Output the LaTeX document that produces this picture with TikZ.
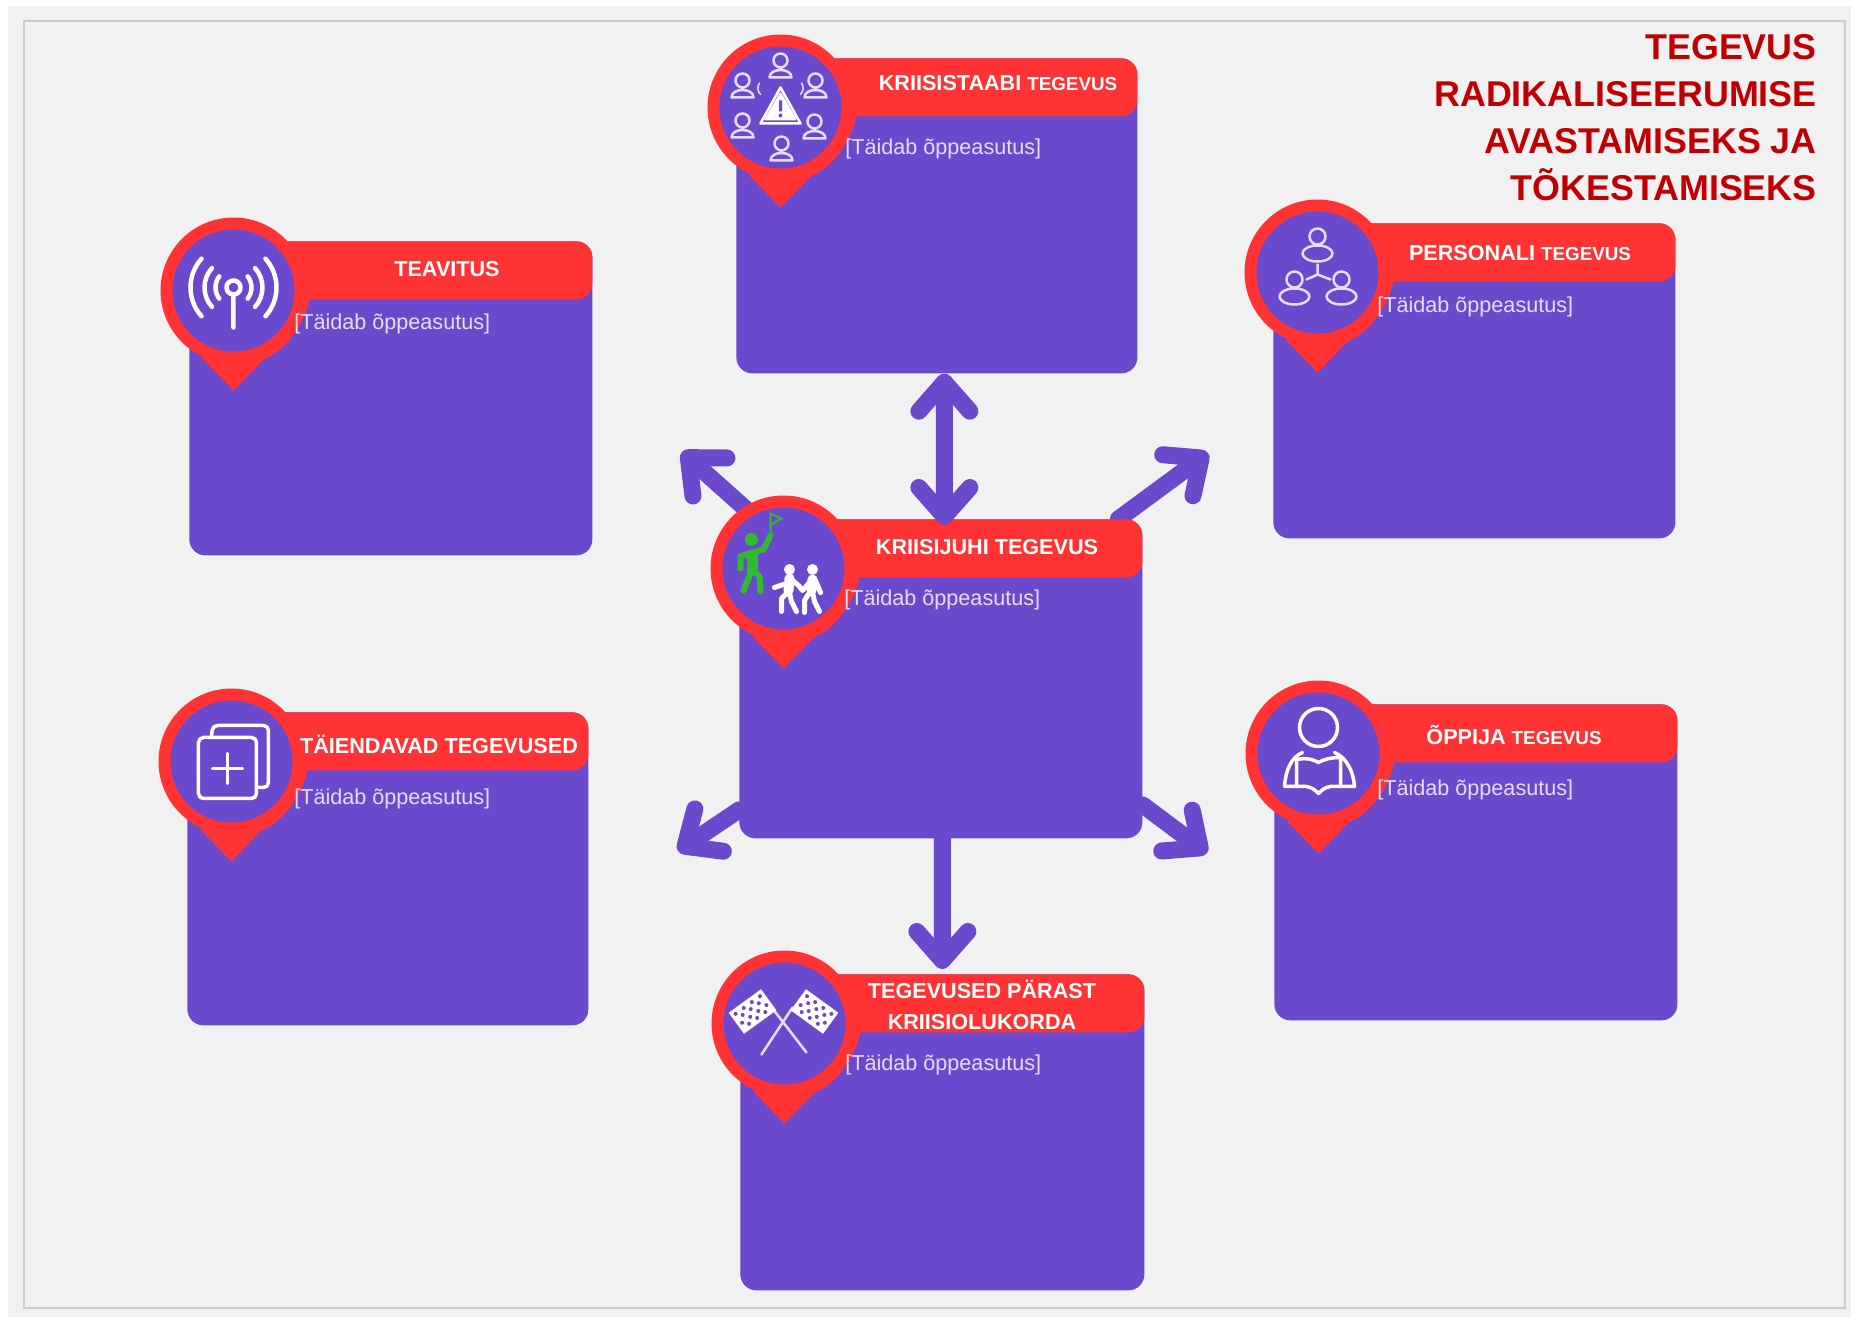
\documentclass[tikz,border=0pt]{standalone}
\usepackage{fontspec}
\setmainfont{Liberation Sans}
\usepackage{xcolor}
\usepackage{tikz}
\usetikzlibrary{calc,positioning,arrows.meta}

\definecolor{cardpurple}{HTML}{6B49CC}
\definecolor{pinred}{HTML}{FF3333}
\definecolor{titlered}{HTML}{C00000}
\definecolor{pagegray}{HTML}{F1F1F1}
\definecolor{framegray}{HTML}{CCCCCC}
\definecolor{lavender}{HTML}{E4DDF7}
\definecolor{flaggreen}{HTML}{2EBB2E}

\newcommand{\hdbig}{\fontsize{12.3}{15}\selectfont}
\newcommand{\hdsmall}{\fontsize{10.7}{15}\selectfont}

\tikzset{
    cardbody/.style={anchor=north west, fill=cardpurple, rounded corners=0.32cm, inner sep=0pt},
    cardhead/.style={anchor=north east, fill=pinred, rounded corners=0.32cm, inner sep=0pt, minimum width=7cm, minimum height=1.16cm},
    headtext/.style={text=white, font=\hdbig\bfseries, align=center, inner sep=0pt},
    filltext/.style={anchor=west, text=lavender, font=\fontsize{12.3}{14}\selectfont, inner sep=0pt},
    pincircle/.style={circle, fill=pinred, inner sep=0pt, minimum size=2.92cm},
    pindisc/.style={circle, fill=cardpurple, inner sep=0pt, minimum size=2.44cm},
    iconline/.style={draw=white, line width=0.07cm, line cap=round, line join=round},
    softline/.style={draw=lavender, line width=0.05cm, line cap=round, line join=round},
    barb/.tip={Straight Barb[round, length=0.58cm, width=1.02cm, line width=0.34cm]},
    bigarrow/.style={draw=cardpurple, line width=0.34cm, line cap=round}
}

\begin{document}
\begin{tikzpicture}[x=0.02cm, y=-0.02cm]
    \useasboundingbox (0,0) rectangle (1851,1317);
    \fill[pagegray] (8,6) rectangle (1851,1317);
    \draw[framegray, line width=0.04cm] (24,21) rectangle (1845,1308);

    % Card bodies
    \foreach \n/\bx/\by/\bw/\bh in {staap/736/58/401/315, teavitus/189/241/403/314, juhi/739/519/403/319, lisa/187/712/401/313, personal/1273/223/402/315, oppija/1274/704/403/316, parast/740/974/404/316}
        \node[cardbody, minimum width=\bw*0.02cm, minimum height=\bh*0.02cm] (\n) at (\bx,\by) {};

    % Arrows going out of the middle card
    \coordinate (nwend) at (682,452);
    \coordinate (neend) at (1208,453);
    \coordinate (swend) at (678,851);
    \coordinate (seend) at (1207,853);
    \draw[bigarrow, -{barb}] (juhi.139) -- (nwend);
    \draw[bigarrow, -{barb}] (juhi.42) -- (neend);
    \draw[bigarrow, -{barb}] (juhi.213) -- (swend);
    \draw[bigarrow, -{barb}] (juhi.-32) -- (seend);

    % Red headers
    \foreach \n in {staap,teavitus,juhi,lisa,personal,oppija,parast}
        \node[cardhead] (\n-head) at (\n.north east) {};

    % Up and down arrows
    \draw[bigarrow, {barb}-{barb}] ([xshift=0.15cm]staap.south) -- ([xshift=0.07cm,yshift=-0.12cm]juhi.north);
    \draw[bigarrow, -{barb}] ([xshift=0.03cm]juhi.south) -- ([yshift=0.1cm]parast.north);

    % Pins
    \foreach \n in {staap,teavitus,juhi,lisa,personal,oppija,parast} {
        \node[pincircle] (\n-pin) at ([shift={(0.89cm,-0.99cm)}]\n.north west) {};
        \begin{scope}[shift={(\n-pin.center)}]
            \fill[pinred] (-31,68) -- (0,100) -- (30,69) .. controls (52,60) and (70,35) .. (76,9) -- (60,0) -- cycle;
        \end{scope}
        \node[pindisc] (\n-disc) at (\n-pin.center) {};
    }

    % Header texts
    \node[headtext] (staaptext) at (998,83) {\hdbig KRIISISTAABI {\hdsmall TEGEVUS}};
    \node[headtext] (teavitustext) at (447,269) {TEAVITUS};
    \node[headtext] (juhitext) at (987,547) {KRIISIJUHI TEGEVUS};
    \node[headtext] (lisatext) at (439,744) {TÄIENDAVAD TEGEVUSED};
    \node[headtext] (personaltext) at (1520,253) {\hdbig PERSONALI {\hdsmall TEGEVUS}};
    \node[headtext] (oppijatext) at (1514,735) {\hdbig ÕPPIJA {\hdsmall TEGEVUS}};
    \node[headtext] (parasttext) at (982,1005) {TEGEVUSED PÄRAST\\[3pt]KRIISIOLUKORDA};

    % Texts to fill in
    \foreach \n/\bx/\by in {staap/845/149, teavitus/294/324, juhi/844/600, lisa/294/799, personal/1377/307, oppija/1377/790, parast/845/1065}
        \node[filltext] (\n-fill) at (\bx,\by) {[Täidab õppeasutus]};

    % Title
    \node[anchor=north east, align=right, inner sep=0pt, text=titlered, font=\fontsize{20.4}{26.8}\selectfont\bfseries] (title) at (1817,34) {TEGEVUS\\RADIKALISEERUMISE\\AVASTAMISEKS JA\\TÕKESTAMISEKS};

    % Staff icon
    \begin{scope}[shift={(staap-disc.center)}]
        \foreach \a/\b in {0/-42, -38/-22, 35/-22, -38/18, 34/19, 1/41}
            \draw[softline] (\a,\b-5) circle (7)
                (\a-11,\b+12) .. controls (\a-11,\b+2) and (\a+11,\b+2) .. (\a+11,\b+12) -- cycle;
        \draw[white, line width=0.05cm, line join=round] (0,-20) -- (-20,16) -- (20,16) -- cycle;
        \fill[white, draw=white, line width=0.04cm, line join=round] (0,-14) -- (-15,12) -- (15,12) -- cycle;
        \fill[cardpurple] (-1.5,-7) rectangle (1.5,4) (0,8) circle (2);
        \draw[softline, line width=0.03cm] (-20,-13) arc (135:215:9) (20,-13) arc (45:-35:9);
    \end{scope}

    % Signal icon
    \begin{scope}[shift={(teavitus-disc.center)}]
        \draw[iconline, line width=0.09cm] (0,-3) circle (7) (0,4) -- (0,37);
        \foreach \r/\s in {18/38, 29/42, 43/42} {
            \draw[iconline, line width=0.09cm] ({\r*cos(\s)},{\r*sin(\s)-3}) arc [start angle=\s, end angle=-\s, radius=\r];
            \draw[iconline, line width=0.09cm] ({-\r*cos(\s)},{\r*sin(\s)-3}) arc [start angle=180-\s, end angle=180+\s, radius=\r];
        }
    \end{scope}

    % Leader icon
    \begin{scope}[shift={(juhi-disc.center)}]
        \fill[flaggreen] (-32,-29) circle (6.5);
        \draw[flaggreen, line width=0.22cm, line cap=round] (-31,-14) -- (-31,2);
        \draw[flaggreen, line width=0.12cm, line cap=round, line join=round] (-43,0) -- (-43,-12) -- (-31,-16) -- (-20,-19) -- (-13,-33) (-32,2) -- (-40,22) (-30,2) -- (-24,8) -- (-23,23);
        \draw[flaggreen, line width=0.04cm, line join=round] (-13,-33) -- (-13,-55) -- (-2,-50) -- (-12,-44);
        \fill[white] (6,1) circle (5.5) (29,1) circle (5.5);
        \draw[white, line width=0.2cm, line cap=round] (6,10) -- (5,22) (29,11) -- (28,22);
        \draw[white, line width=0.1cm, line cap=round, line join=round] (-9,19) -- (3,15) (8,11) -- (15,17) -- (19,22) -- (26,14) (32,12) -- (37,24)
            (4,24) -- (-2,30) -- (-2,43) (6,24) -- (8,33) -- (13,43) (26,24) -- (21,32) -- (21,44) (29,24) -- (31,33) -- (36,43);
    \end{scope}

    % Extra tasks icon
    \begin{scope}[shift={(lisa-disc.center)}]
        \draw[iconline, rounded corners=0.1cm] (-33,-24) rectangle (25,37);
        \draw[iconline, rounded corners=0.1cm] (-20,-24) -- (-19,-36) -- (37,-36) -- (37,26) -- (26,26);
        \draw[iconline] (-19,7) -- (11,7) (-4,-8) -- (-4,22);
    \end{scope}

    % Staff network icon
    \begin{scope}[shift={(personal-disc.center)}]
        \foreach \a/\b in {0/-36, -23/7, 24/7}
            \draw[softline] (\a,\b) circle (8) (\a,\b+17) ellipse (15 and 8);
        \draw[softline] (0,-8) -- (0,2) -- (-11,7) (0,2) -- (13,7);
    \end{scope}

    % Reader icon
    \begin{scope}[shift={(oppija-disc.center)}]
        \draw[iconline] (0,-26) circle (19);
        \draw[iconline] (-22,6) .. controls (-12,4) and (-5,6) .. (0,9) .. controls (5,6) and (12,4) .. (22,4) -- (22,33) (-22,6) -- (-22,33);
        \draw[iconline] (-34,33) .. controls (-33,18) and (-28,4) .. (-16,-1) (36,33) .. controls (35,18) and (28,4) .. (16,-1);
        \draw[iconline] (-34,33) -- (-12,33) .. controls (-6,34) and (-3,37) .. (0,40) .. controls (3,37) and (6,34) .. (12,33) -- (36,33);
    \end{scope}

    % Finish flags icon
    \begin{scope}[shift={(parast-disc.center)}]
        \draw[softline] (-12,-15) -- (22,29) (8,-16) -- (-23,31);
        \begin{scope}[shift={(-32,-12)}, rotate=36]
            \fill[white] (-20,-13) rectangle (20,13);
            \foreach \a/\b in {-15/-8, -5/-8, 5/-8, 15/-8, -10/-3, 0/-3, 10/-3, -15/3, -5/3, 5/3, 15/3, -10/8, 0/8, 10/8}
                \fill[cardpurple] (\a,\b) circle (2);
        \end{scope}
        \begin{scope}[shift={(30,-12)}, rotate=-36]
            \fill[white] (-20,-13) rectangle (20,13);
            \foreach \a/\b in {-15/-8, -5/-8, 5/-8, 15/-8, -10/-3, 0/-3, 10/-3, -15/3, -5/3, 5/3, 15/3, -10/8, 0/8, 10/8}
                \fill[cardpurple] (\a,\b) circle (2);
        \end{scope}
    \end{scope}
\end{tikzpicture}
\end{document}
